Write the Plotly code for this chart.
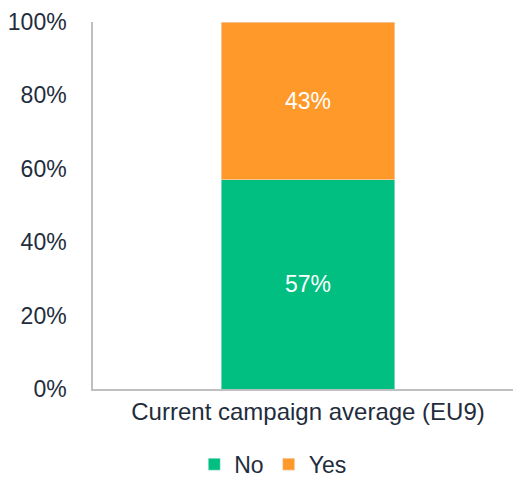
import plotly.graph_objects as go

categories = ["Current campaign average (EU9)"]
no_vals = [57]
yes_vals = [43]
series_names = ["No", "Yes"]
y_ticks = [0, 20, 40, 60, 80, 100]
y_tick_labels = ["0%", "20%", "40%", "60%", "80%", "100%"]

txt = "#1F2D3D"
font_family = "Liberation Sans, Arial, sans-serif"
fs = 23

fig = go.Figure()
fig.add_trace(go.Bar(x=categories, y=no_vals, name=series_names[0], marker_color="#00BF80",
                     text=[f"{v}%" for v in no_vals], textposition="inside", insidetextanchor="middle",
                     textfont=dict(color="white", size=fs, family=font_family), width=0.414))
fig.add_trace(go.Bar(x=categories, y=yes_vals, name=series_names[1], marker_color="#FF9929",
                     text=[f"{v}%" for v in yes_vals], textposition="inside", insidetextanchor="middle",
                     textfont=dict(color="white", size=fs, family=font_family), width=0.414))

fig.update_layout(
    barmode="stack",
    width=513, height=479,
    margin=dict(l=93, r=0, t=22, b=90, autoexpand=False),
    plot_bgcolor="white", paper_bgcolor="white",
    font=dict(family=font_family, size=fs, color=txt),
    showlegend=True,
    uniformtext=dict(mode=False),
    legend=dict(orientation="h", x=0.428, xanchor="center", y=-0.205, yanchor="middle",
                font=dict(size=fs, color=txt), itemwidth=30, traceorder="normal"),
    xaxis=dict(range=[-0.512, 0.488], showline=True, linecolor="#BFBFBF", linewidth=1.5,
               ticks="", showgrid=False, tickfont=dict(size=24, color=txt),
               automargin=False),
    yaxis=dict(range=[0, 100], tickvals=y_ticks, ticktext=y_tick_labels, showline=True,
               linecolor="#BFBFBF", linewidth=1.5, showgrid=False, zeroline=False, ticks="",
               ticklabelstandoff=20, tickfont=dict(size=fs, color=txt), automargin=False),
)

fig.write_html("out.html", config={"displayModeBar": False},
               post_script="document.body.style.margin='0';document.body.style.overflow='hidden';")
